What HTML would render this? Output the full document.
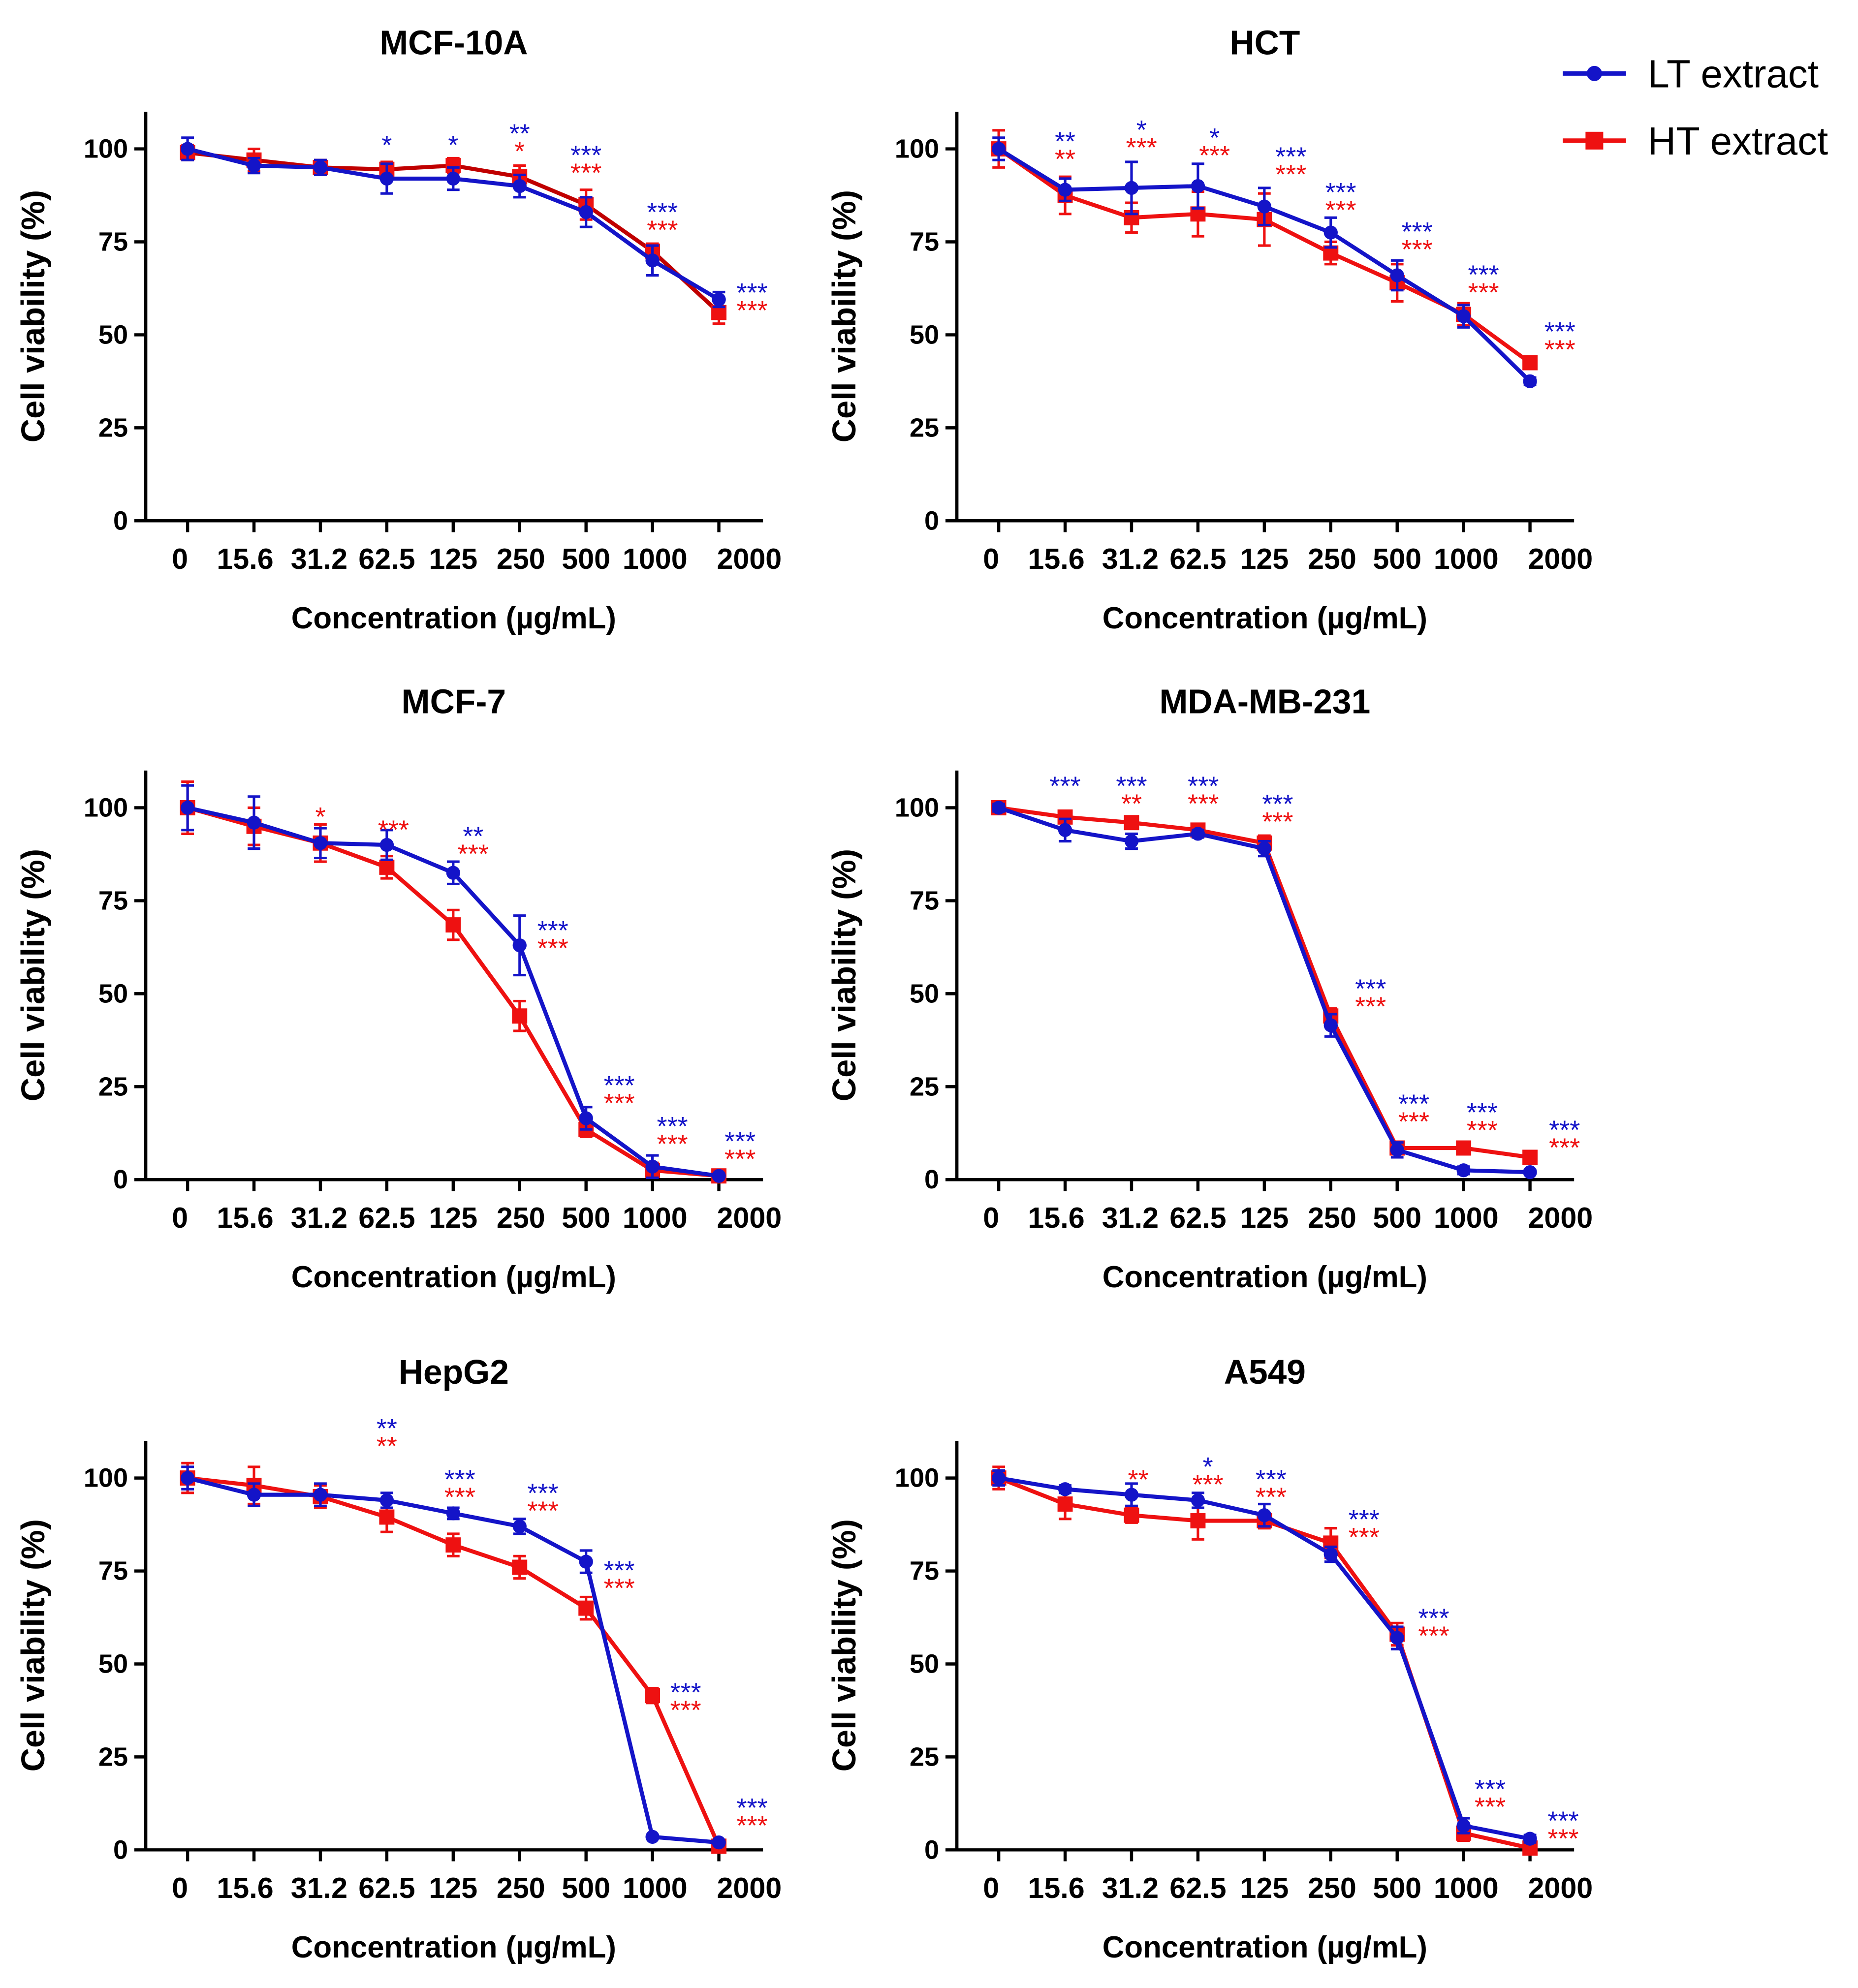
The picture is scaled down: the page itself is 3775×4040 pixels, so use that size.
<!DOCTYPE html>
<html><head><meta charset="utf-8">
<style>
html,body{margin:0;padding:0;background:#fff;}
svg{display:block;font-family:"Liberation Sans",Arial,sans-serif;}
</style></head>
<body>
<svg id="chart" width="3775" height="4040" viewBox="0 0 1466 1569" preserveAspectRatio="none" xmlns="http://www.w3.org/2000/svg">
<g>
  <g>
    <line x1="1233" y1="58" x2="1283" y2="58" stroke="#1414c8" stroke-width="3.5"/>
    <circle cx="1258" cy="58" r="6" fill="#1414c8"/>
    <text x="1300" y="69" font-size="31" fill="#000">LT extract</text>
  </g>
  <g>
    <line x1="1233" y1="111" x2="1283" y2="111" stroke="#ee1111" stroke-width="3.5"/>
    <rect x="1251" y="104" width="14" height="14" fill="#ee1111"/>
    <text x="1300" y="122" font-size="31" fill="#000">HT extract</text>
  </g>
</g>
</svg>
<script>
const categories = ["0","15.6","31.2","62.5","125","250","500","1000","2000"];
const yTicks = [0,25,50,75,100];
const panelTitles = ["MCF-10A","HCT","MCF-7","MDA-MB-231","HepG2","A549"];

const ltValues = [
 [100,95.5,95,92,92,90,83,70,59.5],
 [100,89,89.5,90,84.5,77.5,66,55,37.5],
 [100,96,90.5,90,82.5,63,16.5,3.5,1],
 [100,94,91,93,89,41.5,8,2.5,2],
 [100,95.5,95.5,94,90.5,87,77.5,3.5,2],
 [100,97,95.5,94,90,79.5,57,6.5,3]
];
const ltErrors = [
 [3,2,2,4,3,3,4,4,2],
 [3,3,7,6,5,4,4,3,1],
 [6,7,4,4,3,8,3,3,0.5],
 [1,3,2,1,2,3,2,1,0.5],
 [3,3,3,2,1.5,2,3,0.5,0.5],
 [2,1,3,2,3,2,3,2,1]
];
const htValues = [
 [99,97,95,94.5,95.5,92.5,85,72.5,56],
 [100,87.5,81.5,82.5,81,72,64,55.5,42.5],
 [100,95,90.5,84,68.5,44,13.5,2.5,1],
 [100,97.5,96,94,90.5,44,8.5,8.5,6],
 [100,98,95,89.5,82,76,65,41.5,1],
 [100,93,90,88.5,88.5,82.5,58,4.5,0.5]
];
const htErrors = [
 [2,3,2,2,2,3,4,2,3],
 [5,5,4,6,7,3,5,3,1],
 [7,5,5,3,4,4,2,2,0.5],
 [1,1,1,1,2,2,1,1,1],
 [4,5,3,4,3,3,3,2,0.5],
 [3,4,2,5,2,4,3,2,0.5]
];
// significance annotations: [categoryIndex, xShift(categories), yValue, blueText, redText]
const sigMarks = [
 [[3,0,101.7,"*",""],[4,0,101.7,"*",""],[5,0,104.8,"**","*"],[6,0,99,"***","***"],[7,0.15,83.6,"***","***"],[8,0.5,62,"***","***"]],
 [[1,0,102.7,"**","**"],[2,0.15,105.8,"*","***"],[3,0.25,103.7,"*","***"],[4,0.4,98.6,"***","***"],[5,0.15,89,"***","***"],[6,0.3,78.4,"***","***"],[7,0.3,66.8,"***","***"],[8,0.45,51.5,"***","***"]],
 [[2,0,103,"","*"],[3,0.1,99.5,"","***"],[4,0.3,93,"**","***"],[5,0.5,67.7,"***","***"],[6,0.5,26,"***","***"],[7,0.3,15,"***","***"],[8,0.32,11,"***","***"]],
 [[1,0,106.5,"***",""],[2,0,106.5,"***","**"],[3,0.08,106.5,"***","***"],[4,0.2,101.7,"***","***"],[5,0.6,52,"***","***"],[6,0.25,21,"***","***"],[7,0.28,18.7,"***","***"],[8,0.52,14,"***","***"]],
 [[3,0,114,"**","**"],[4,0.1,100.3,"***","***"],[5,0.35,96.6,"***","***"],[6,0.5,75.8,"***","***"],[7,0.5,43,"***","***"],[8,0.5,12,"***","***"]],
 [[2,0.1,105,"","**"],[3,0.15,103.7,"*","***"],[4,0.1,100.3,"***","***"],[5,0.5,89.5,"***","***"],[6,0.55,63,"***","***"],[7,0.4,17,"***","***"],[8,0.5,8.5,"***","***"]]
];

const NS = "http://www.w3.org/2000/svg";
const svg = document.getElementById('chart');
const BLUE = "#1414c8", RED = "#ee1111";
const colX = [115, 755];
const rowY0 = [411, 931, 1460];
const rowTitleY = [33, 553, 1082];
const PXU = 2.935, SPACING = 52.4, FIRST = 33, AXLEN = 487;
const LABEL_NUDGE = [-6,-7,-1,0,0,1,0,2,24];

function mk(tag, attrs, parent) {
  const e = document.createElementNS(NS, tag);
  for (const k in attrs) e.setAttribute(k, attrs[k]);
  parent.appendChild(e);
  return e;
}

for (let p = 0; p < 6; p++) {
  const col = p % 2, row = Math.floor(p / 2);
  const ax = colX[col], y0 = rowY0[row];
  const xScale = i => ax + FIRST + i * SPACING;
  const yScale = v => y0 - v * PXU;
  const g = mk('g', {}, svg);
  
  

  const t = mk('text', {x: ax + 243, y: rowTitleY[row] + 10, 'font-size': 27, 'font-weight': 'bold', 'text-anchor': 'middle'}, g);
  t.textContent = panelTitles[p];
  
  

  const yTop = yScale(110);
  const yAxis = mk('line', {x1: ax, y1: yTop, x2: ax, y2: y0, stroke: '#000', 'stroke-width': 2.5}, g);
  
  
  const xAxis = mk('line', {x1: ax - 1, y1: y0, x2: ax + AXLEN, y2: y0, stroke: '#000', 'stroke-width': 2.5}, g);
  
  

  yTicks.forEach(v => {
    mk('line', {x1: ax - 9, y1: yScale(v), x2: ax, y2: yScale(v), stroke: '#000', 'stroke-width': 2.5}, g);
    const tl = mk('text', {x: ax - 14, y: yScale(v) + 7, 'font-size': 21, 'font-weight': 'bold', 'text-anchor': 'end'}, g);
    tl.textContent = v;
    
    
  });
  categories.forEach((c, i) => {
    mk('line', {x1: xScale(i), y1: y0, x2: xScale(i), y2: y0 + 9, stroke: '#000', 'stroke-width': 2.5}, g);
    const tl = mk('text', {x: xScale(i) + LABEL_NUDGE[i], y: y0 + 38, 'font-size': 23, 'font-weight': 'bold', 'text-anchor': 'middle'}, g);
    tl.textContent = c;
    
    
  });

  const xt = mk('text', {x: ax + 243, y: y0 + 85, 'font-size': 24, 'font-weight': 'bold', 'text-anchor': 'middle'}, g);
  xt.textContent = 'Concentration (\u00b5g/mL)';
  
  
  const ymid = (yTop + y0) / 2;
  const yt = mk('text', {x: ax - 80, y: ymid, 'font-size': 26, 'font-weight': 'bold', 'text-anchor': 'middle', transform: `rotate(-90 ${ax - 80} ${ymid})`}, g);
  yt.textContent = 'Cell viability (%)';
  
  

  const series = [
    {vals: htValues[p], errs: htErrors[p], color: RED, line: p === 0 ? '#c00000' : RED, name: 'ht', square: true},
    {vals: ltValues[p], errs: ltErrors[p], color: BLUE, line: BLUE, name: 'lt', square: false}
  ];
  series.forEach(s => {
    const sg = mk('g', {}, g);
    
    
    s.vals.forEach((v, i) => {
      const x = xScale(i), e = s.errs[i];
      const eb = mk('path', {d: `M${x},${yScale(v - e)}V${yScale(v + e)}M${x - 5},${yScale(v + e)}H${x + 5}M${x - 5},${yScale(v - e)}H${x + 5}`, stroke: s.color, 'stroke-width': 2, fill: 'none'}, sg);
      
      
    });
    const pts = s.vals.map((v, i) => xScale(i) + ',' + yScale(v)).join(' ');
    const pl = mk('polyline', {points: pts, fill: 'none', stroke: s.line, 'stroke-width': 3.2}, sg);
    
    
    s.vals.forEach((v, i) => {
      let m;
      if (s.square) m = mk('rect', {x: xScale(i) - 6, y: yScale(v) - 6, width: 12, height: 12, fill: s.color}, sg);
      else m = mk('circle', {cx: xScale(i), cy: yScale(v), r: 5.5, fill: s.color}, sg);
      
      
    });
  });

  sigMarks[p].forEach(sm => {
    const x = xScale(sm[0] + sm[1]), y = yScale(sm[2]);
    if (sm[3]) {
      const b = mk('text', {x: x, y: y + 9, 'font-size': 21, fill: BLUE, 'text-anchor': 'middle'}, g);
      b.textContent = sm[3];
      
      
    }
    if (sm[4]) {
      const r = mk('text', {x: x, y: y + 23, 'font-size': 21, fill: RED, 'text-anchor': 'middle'}, g);
      r.textContent = sm[4];
      
      
    }
  });
}
</script>
</body></html>
